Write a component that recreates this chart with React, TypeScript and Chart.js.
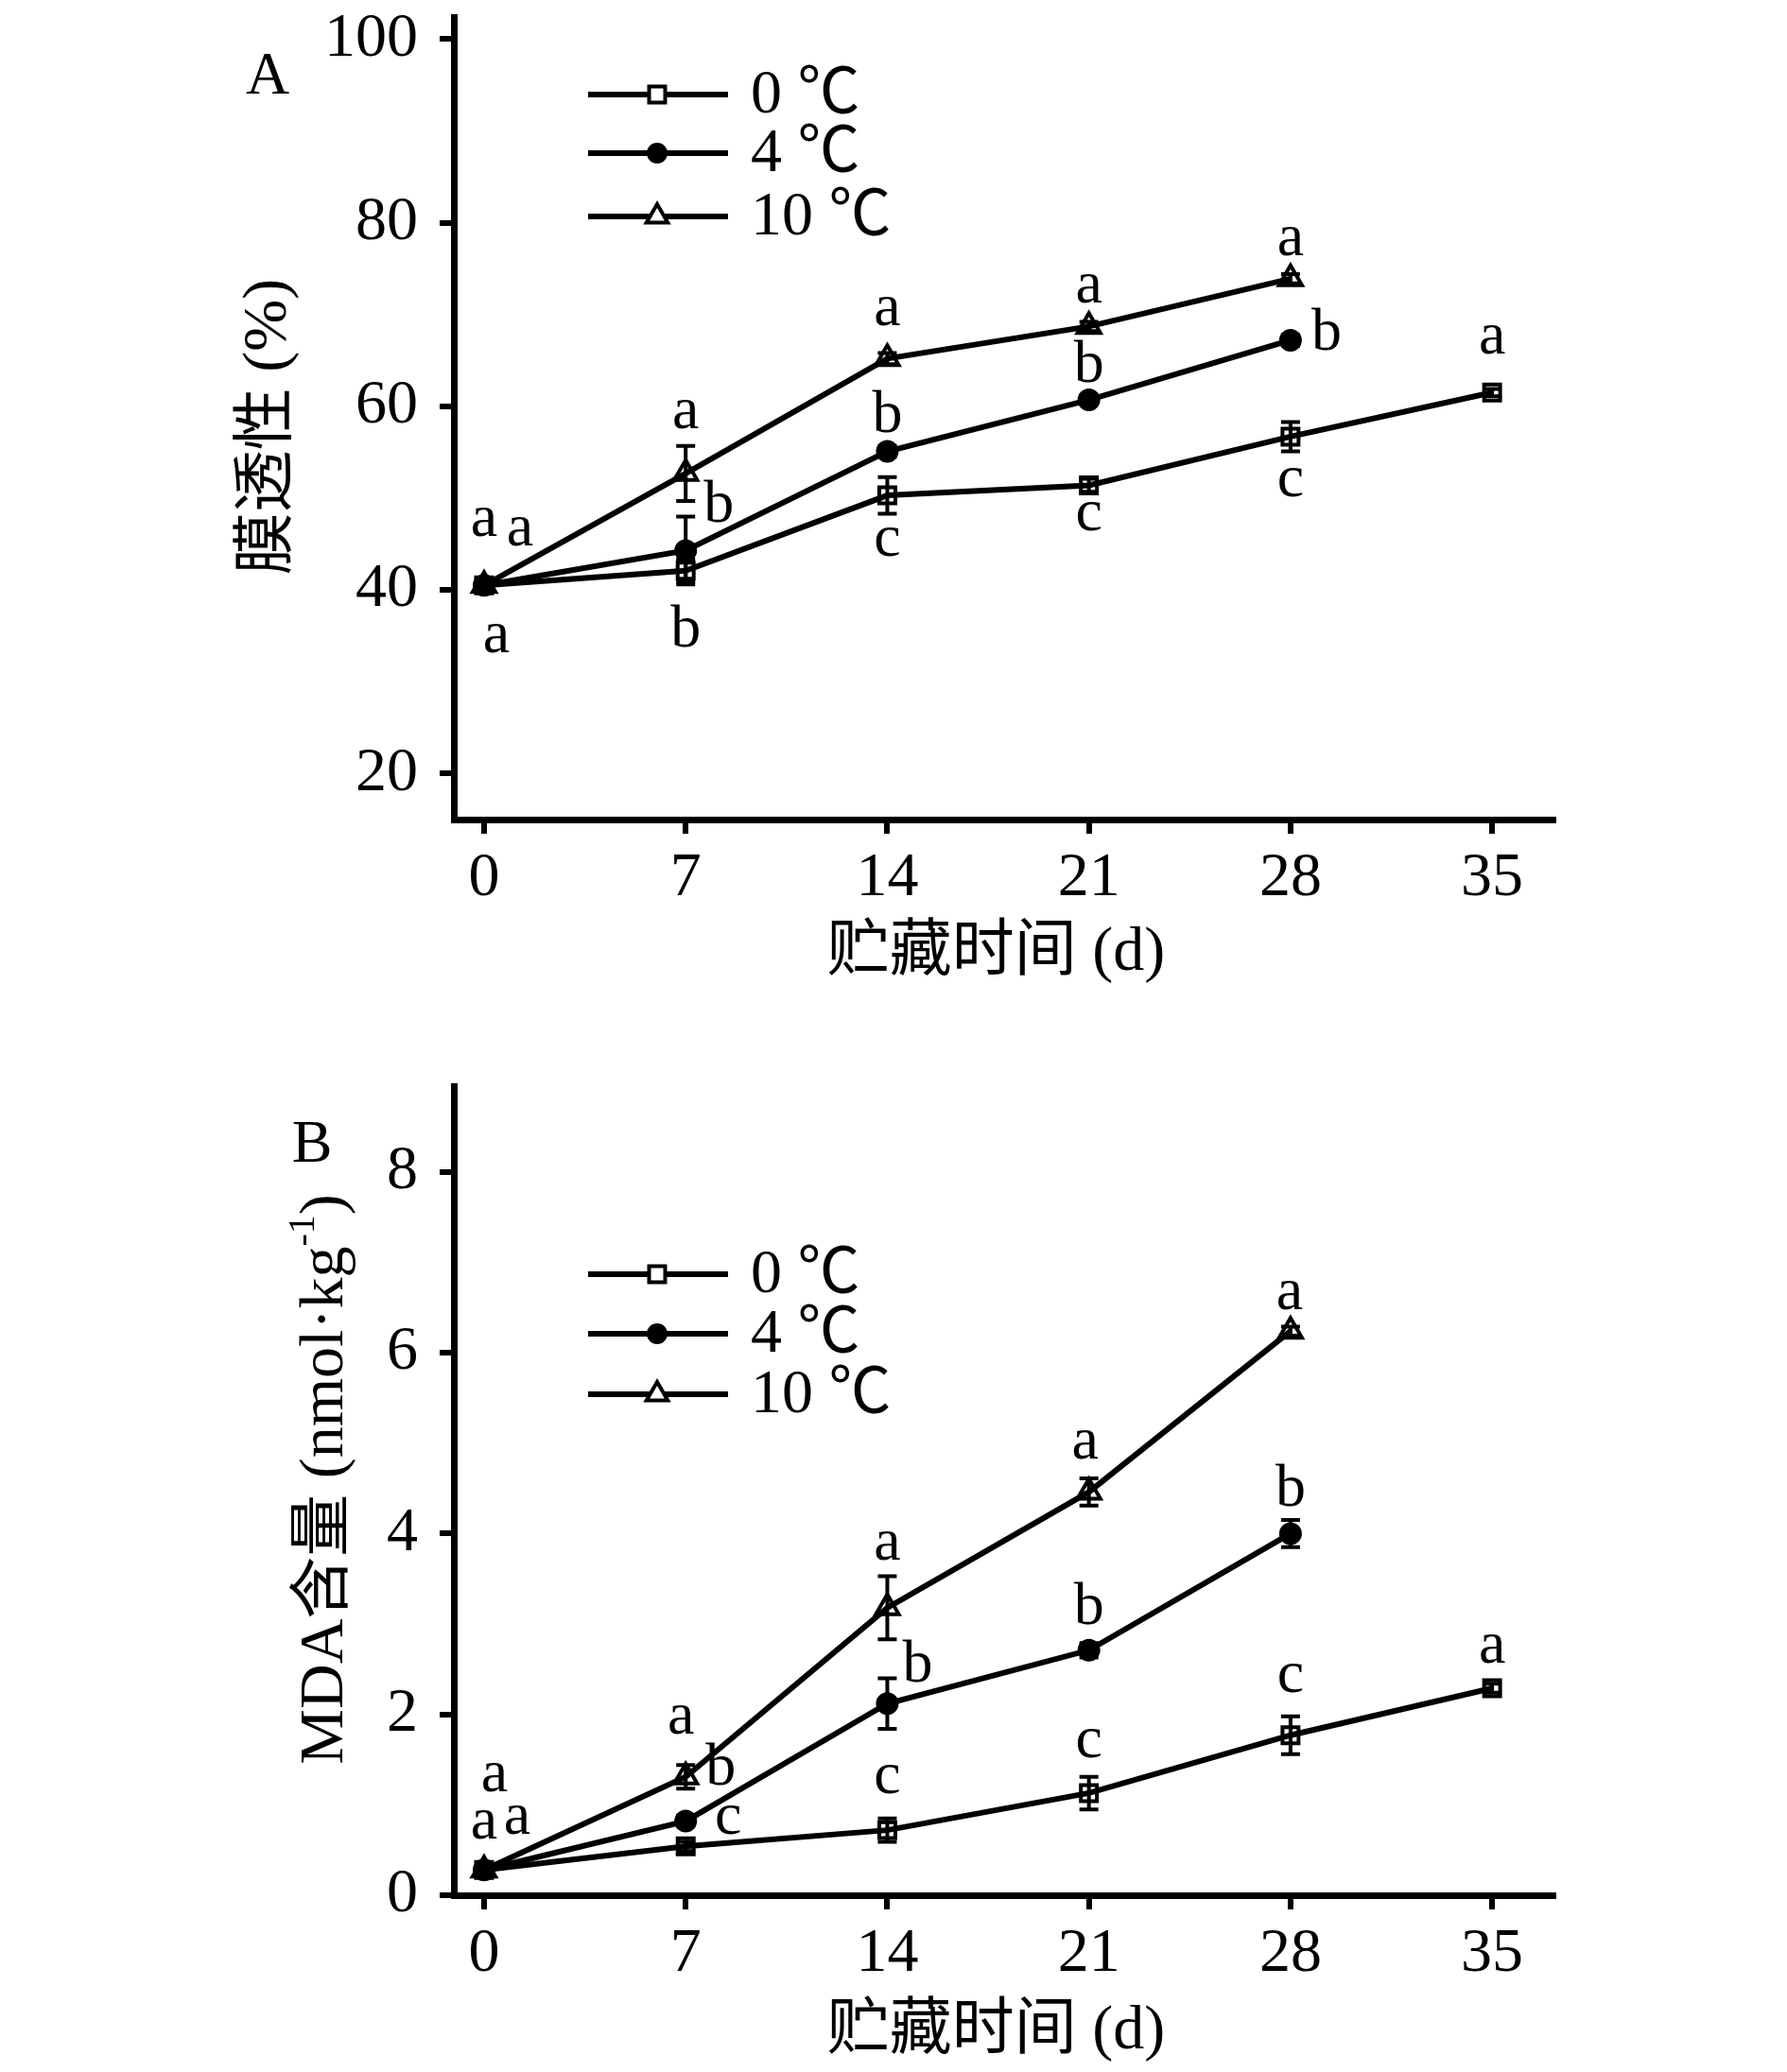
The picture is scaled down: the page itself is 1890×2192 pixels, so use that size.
import React, { useEffect, useRef } from "react";
import { Chart, registerables } from "chart.js";

Chart.register(...registerables);

const FONT = "'Liberation Serif', 'Noto Sans CJK SC', serif";

// ---------- data ----------
const days = [0, 7, 14, 21, 28, 35];
const xTickValues = [0, 7, 14, 21, 28, 35];
const seriesLabels = ["0 ℃", "4 ℃", "10 ℃"];

// Panel A: membrane permeability (%)
const permTicks = [20, 40, 60, 80, 100];
const perm0 = [40.5, 42.1, 50.3, 51.4, 56.7, 61.5];
const perm0Err = [0.3, 1.2, 2.0, 0.7, 1.6, 0.4];
const perm4 = [40.5, 44.3, 55.1, 60.7, 67.2];
const perm4Err = [0.3, 3.7, 0.6, 0.5, 0.6];
const perm10 = [40.5, 52.7, 65.2, 68.7, 73.9];
const perm10Err = [0.3, 3.0, 0.6, 0.5, 0.5];
const perm0Sig = ["a", "b", "c", "c", "c", "a"];
const perm4Sig = ["a", "b", "b", "b", "b"];
const perm10Sig = ["a", "a", "a", "a", "a"];

// Panel B: MDA content (nmol/kg)
const mdaTicks = [0, 2, 4, 6, 8];
const mda0 = [0.28, 0.54, 0.72, 1.13, 1.77, 2.29];
const mda0Err = [0.03, 0.05, 0.13, 0.18, 0.21, 0.05];
const mda4 = [0.28, 0.82, 2.12, 2.71, 4.0];
const mda4Err = [0.03, 0.06, 0.28, 0.08, 0.15];
const mda10 = [0.28, 1.31, 3.18, 4.46, 6.24];
const mda10Err = [0.03, 0.13, 0.35, 0.15, 0.05];
const mda0Sig = ["a", "c", "c", "c", "c", "a"];
const mda4Sig = ["a", "b", "b", "b", "b"];
const mda10Sig = ["a", "a", "a", "a", "a"];

// ---------- layout (pixel offsets, not data) ----------
const W = 1890;
const H = 1096;

const sigOffsetsA = [
  [[13, 56], [0, 58], [0, 50], [0, 33], [0, 49], [0, -56]],
  [[38, -57], [35, -52], [0, -42], [0, -41], [38, -12]],
  [[0, -67], [0, -62], [0, -50], [0, -40], [0, -39]],
];
const sigOffsetsB = [
  [[35, -53], [45, -28], [0, -54], [0, -52], [0, -60], [0, -41]],
  [[0, -48], [37, -60], [32, -45], [0, -50], [0, -51]],
  [[11, -98], [-5, -60], [0, -65], [-4, -50], [-1, -38]],
];

const styles = [
  { pointStyle: "rect", radius: 12, fill: "rgba(0,0,0,0)", bw: 4 },
  { pointStyle: "circle", radius: 11, fill: "#000", bw: 2 },
  { pointStyle: "triangle", radius: 14, fill: "rgba(0,0,0,0)", bw: 4 },
];

type Panel = {
  letter: string;
  yTitleMain: string;
  ySup: string;
  yTitleEnd: string;
  yTicks: number[];
  yMin: number;
  yMax: number;
  area: { left: number; right: number; top: number; bottom: number };
  values: number[][];
  errs: number[][];
  sigs: string[][];
  sigOffsets: number[][][];
  legendRows: number[];
  letterPos: number[];
  yTitleX: number;
  yTitleDy: number;
  xTitleDy: number;
};

const panelA: Panel = {
  letter: "A",
  yTitleMain: "膜透性 (%)",
  ySup: "",
  yTitleEnd: "",
  yTicks: permTicks,
  yMin: 15,
  yMax: 102.4,
  area: { left: 480, right: 1643, top: 10, bottom: 867 },
  values: [perm0, perm4, perm10],
  errs: [perm0Err, perm4Err, perm10Err],
  sigs: [perm0Sig, perm4Sig, perm10Sig],
  sigOffsets: sigOffsetsA,
  legendRows: [82, 144, 211],
  letterPos: [-197, 64],
  yTitleX: 285,
  yTitleDy: 9,
  xTitleDy: 142,
};

const panelB: Panel = {
  letter: "B",
  yTitleMain: "MDA含量 (nmol·kg",
  ySup: "-1",
  yTitleEnd: ")",
  yTicks: mdaTicks,
  yMin: 0,
  yMax: 8.95,
  area: { left: 480, right: 1643, top: 53, bottom: 909 },
  values: [mda0, mda4, mda10],
  errs: [mda0Err, mda4Err, mda10Err],
  sigs: [mda0Sig, mda4Sig, mda10Sig],
  sigOffsets: sigOffsetsB,
  legendRows: [199, 262, 326],
  letterPos: [-150, 63],
  yTitleX: 345,
  yTitleDy: -12,
  xTitleDy: 145,
};

function drawMarker(ctx: CanvasRenderingContext2D, k: number, x: number, y: number, r: number) {
  ctx.save();
  ctx.strokeStyle = "#000";
  ctx.fillStyle = "#000";
  ctx.lineWidth = 4;
  ctx.beginPath();
  if (k === 0) {
    const s = Math.SQRT1_2 * r;
    ctx.fillStyle = "#fff";
    ctx.rect(x - s, y - s, 2 * s, 2 * s);
    ctx.fill();
    ctx.stroke();
  } else if (k === 1) {
    ctx.arc(x, y, r, 0, Math.PI * 2);
    ctx.fill();
  } else {
    ctx.fillStyle = "#fff";
    ctx.moveTo(x, y - r);
    ctx.lineTo(x + r * Math.sin((2 * Math.PI) / 3), y + r / 2);
    ctx.lineTo(x - r * Math.sin((2 * Math.PI) / 3), y + r / 2);
    ctx.closePath();
    ctx.fill();
    ctx.stroke();
  }
  ctx.restore();
}

function makePlugin(p: Panel) {
  return {
    id: "decor" + p.letter,
    afterDatasetsDraw(chart: any) {
      const ctx: CanvasRenderingContext2D = chart.ctx;
      const xs = chart.scales.x;
      const ys = chart.scales.y;
      ctx.save();
      ctx.strokeStyle = "#000";
      ctx.lineWidth = 4;
      p.values.forEach((vals, k) => {
        vals.forEach((v, i) => {
          const e = p.errs[k][i];
          if (!e) return;
          const x = xs.getPixelForValue(days[i]);
          const y1 = ys.getPixelForValue(v + e);
          const y2 = ys.getPixelForValue(v - e);
          ctx.beginPath();
          ctx.moveTo(x, y1);
          ctx.lineTo(x, y2);
          ctx.moveTo(x - 10, y1);
          ctx.lineTo(x + 10, y1);
          ctx.moveTo(x - 10, y2);
          ctx.lineTo(x + 10, y2);
          ctx.stroke();
        });
      });
      // significance letters
      const fs = 64;
      ctx.fillStyle = "#000";
      ctx.font = `${fs}px ${FONT}`;
      ctx.textAlign = "center";
      ctx.textBaseline = "alphabetic";
      p.values.forEach((vals, k) => {
        vals.forEach((v, i) => {
          const letter = p.sigs[k][i];
          const off = p.sigOffsets[k][i];
          const x = xs.getPixelForValue(days[i]) + off[0];
          const cy = ys.getPixelForValue(v) + off[1];
          const base = cy + (letter === "b" ? 0.34 : 0.225) * fs;
          ctx.fillText(letter, x, base);
        });
      });
      ctx.restore();
    },
    afterDraw(chart: any) {
      const ctx: CanvasRenderingContext2D = chart.ctx;
      const a = chart.chartArea;
      ctx.save();
      ctx.fillStyle = "#000";
      // legend
      ctx.font = `66px ${FONT}`;
      ctx.textAlign = "left";
      ctx.textBaseline = "middle";
      p.legendRows.forEach((ry, k) => {
        const y = a.top + ry;
        ctx.strokeStyle = "#000";
        ctx.lineWidth = 6;
        ctx.beginPath();
        ctx.moveTo(a.left + 142, y);
        ctx.lineTo(a.left + 290, y);
        ctx.stroke();
        drawMarker(ctx, k, a.left + 215, y, k === 2 ? 13 : k === 1 ? 11 : 12);
        ctx.fillText(seriesLabels[k], a.left + 314, y + 2);
      });
      // panel letter
      ctx.font = `64px ${FONT}`;
      ctx.textAlign = "center";
      ctx.fillText(p.letter, a.left + p.letterPos[0], a.top + p.letterPos[1]);
      // x title
      ctx.font = `66px ${FONT}`;
      ctx.textAlign = "center";
      ctx.fillText("贮藏时间 (d)", (a.left + a.right) / 2 - 8, a.bottom + p.xTitleDy);
      // y title (rotated)
      const cy = (a.top + a.bottom) / 2 + p.yTitleDy;
      ctx.translate(p.yTitleX, cy);
      ctx.rotate(-Math.PI / 2);
      ctx.textAlign = "left";
      ctx.font = `66px ${FONT}`;
      const w1 = ctx.measureText(p.yTitleMain).width;
      ctx.font = `40px ${FONT}`;
      const w2 = p.ySup ? ctx.measureText(p.ySup).width : 0;
      ctx.font = `66px ${FONT}`;
      const w3 = p.yTitleEnd ? ctx.measureText(p.yTitleEnd).width : 0;
      let x0 = -(w1 + w2 + w3) / 2;
      ctx.fillText(p.yTitleMain, x0, 0);
      x0 += w1;
      if (p.ySup) {
        ctx.font = `40px ${FONT}`;
        ctx.fillText(p.ySup, x0, -24);
        x0 += w2;
        ctx.font = `66px ${FONT}`;
        ctx.fillText(p.yTitleEnd, x0, 0);
      }
      ctx.restore();
    },
  };
}

function makeConfig(p: Panel): any {
  const datasets = p.values.map((vals, k) => ({
    label: seriesLabels[k],
    data: vals.map((v, i) => ({ x: days[i], y: v })),
    borderColor: "#000",
    borderWidth: 6,
    tension: 0,
    fill: false,
    pointStyle: styles[k].pointStyle,
    pointRadius: styles[k].radius,
    pointBackgroundColor: styles[k].fill,
    pointBorderColor: "#000",
    pointBorderWidth: styles[k].bw,
  }));
  const gridOpts = {
    display: true,
    drawOnChartArea: false,
    drawTicks: true,
    tickLength: 15,
    tickWidth: 6,
    tickColor: "#000",
    color: "#000",
    lineWidth: 6,
  };
  return {
    type: "line",
    data: { datasets },
    plugins: [makePlugin(p)],
    options: {
      animation: false,
      responsive: false,
      maintainAspectRatio: false,
      devicePixelRatio: 1,
      events: [],
      layout: { padding: { left: 0, top: p.area.top, right: W - p.area.right, bottom: 0 } },
      plugins: { legend: { display: false }, tooltip: { enabled: false }, title: { display: false } },
      scales: {
        x: {
          type: "linear",
          min: -1.05,
          max: 37.13,
          afterBuildTicks: (s: any) => {
            s.ticks = xTickValues.map((v) => ({ value: v }));
          },
          afterFit: (s: any) => {
            s.height = H - p.area.bottom;
            s.paddingLeft = 0;
            s.paddingRight = 0;
          },
          grid: gridOpts,
          border: { display: true, color: "#000", width: 7 },
          ticks: {
            color: "#000",
            font: { family: FONT, size: 66 },
            padding: 8,
            maxRotation: 0,
            autoSkip: false,
            callback: (v: any) => String(v),
          },
        },
        y: {
          type: "linear",
          min: p.yMin,
          max: p.yMax,
          afterBuildTicks: (s: any) => {
            s.ticks = p.yTicks.map((v) => ({ value: v }));
          },
          afterFit: (s: any) => {
            s.width = p.area.left;
            s.paddingTop = 0;
            s.paddingBottom = 0;
          },
          grid: gridOpts,
          border: { display: true, color: "#000", width: 7 },
          ticks: {
            color: "#000",
            font: { family: FONT, size: 66 },
            padding: 23,
            autoSkip: false,
            callback: (v: any) => String(v),
          },
        },
      },
    },
  };
}

export default function App() {
  const refA = useRef<HTMLCanvasElement | null>(null);
  const refB = useRef<HTMLCanvasElement | null>(null);

  useEffect(() => {
    if (!refA.current || !refB.current) return;
    const cA = new Chart(refA.current, makeConfig(panelA));
    const cB = new Chart(refB.current, makeConfig(panelB));
    return () => {
      cA.destroy();
      cB.destroy();
    };
  }, []);

  return (
    <div style={{ position: "absolute", left: 0, top: 0, width: W, height: 2 * H, background: "#fff" }}>
      <canvas ref={refA} width={W} height={H} style={{ display: "block", width: W, height: H }} />
      <canvas ref={refB} width={W} height={H} style={{ display: "block", width: W, height: H }} />
    </div>
  );
}
